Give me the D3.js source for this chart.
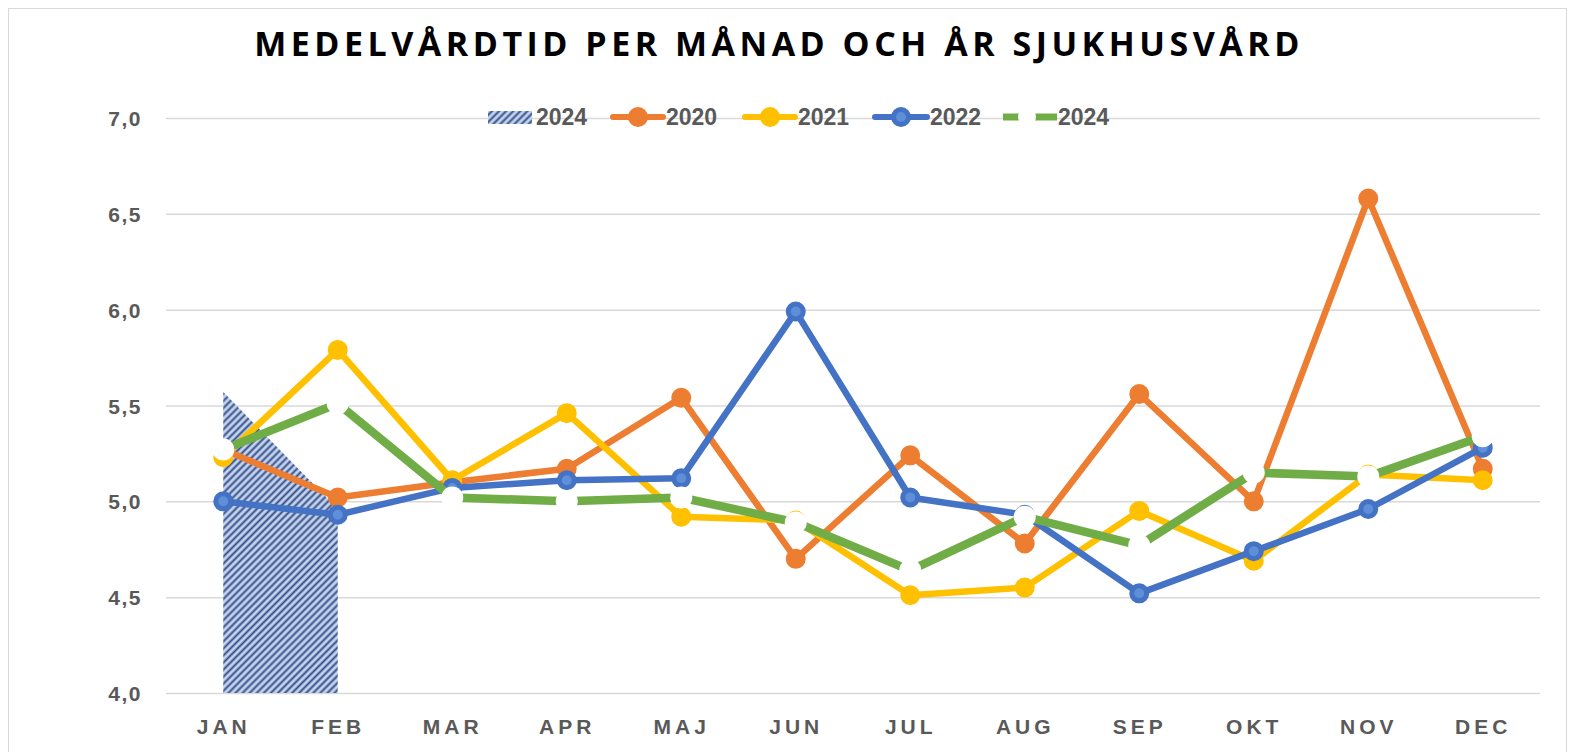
<!DOCTYPE html>
<html>
<head>
<meta charset="utf-8">
<script src="https://cdn.jsdelivr.net/npm/d3@7"></script>
<style>
  body { margin: 0; background: #fff; }
  text { font-family: "Liberation Sans", Arial, sans-serif; }
</style>
</head>
<body>
<div id="chart-area"></div>
<script>
// data
var months = ["JAN", "FEB", "MAR", "APR", "MAJ", "JUN", "JUL", "AUG", "SEP", "OKT", "NOV", "DEC"];
var yTicks = [4.0, 4.5, 5.0, 5.5, 6.0, 6.5, 7.0];
var area2024 = [5.57, 4.96];
var v2020 = [5.27, 5.02, 5.10, 5.17, 5.54, 4.70, 5.24, 4.78, 5.56, 5.00, 6.58, 5.17];
var v2021 = [5.23, 5.79, 5.11, 5.46, 4.92, 4.90, 4.51, 4.55, 4.95, 4.69, 5.14, 5.11];
var v2022 = [5.00, 4.93, 5.07, 5.11, 5.12, 5.99, 5.02, 4.93, 4.52, 4.74, 4.96, 5.28];
var v2024 = [5.27, 5.51, 5.02, 5.00, 5.02, 4.89, 4.64, 4.92, 4.77, 5.15, 5.13, 5.34];
var title = "MEDELVÅRDTID PER MÅNAD OCH ÅR SJUKHUSVÅRD";

//Canvas
var W = 1575, H = 752;
var plot = { left: 166, right: 1540, top: 118, bottom: 693 };

var svg = d3.select("#chart-area").append("svg")
    .attr("width", W)
    .attr("height", H);

// hatch pattern for the area
var defs = svg.append("defs");
var pat = defs.append("pattern")
    .attr("id", "hatch")
    .attr("patternUnits", "userSpaceOnUse")
    .attr("width", 5)
    .attr("height", 5)
    .attr("patternTransform", "rotate(45)");
pat.append("rect").attr("width", 5).attr("height", 5).attr("fill", "#c6d4ee");
pat.append("line")
    .attr("x1", 1.5).attr("y1", 0).attr("x2", 1.5).attr("y2", 5)
    .attr("stroke", "#34508a").attr("stroke-width", 2);

// outer border
svg.append("rect")
    .attr("x", 8.5).attr("y", 8.5)
    .attr("width", W - 17).attr("height", H)
    .attr("fill", "none")
    .attr("stroke", "#d9d9d9")
    .attr("stroke-width", 1);

//title
svg.append("text")
    .attr("x", 779)
    .attr("y", 56)
    .attr("text-anchor", "middle")
    .style("font-family", "'Open Sans', sans-serif")
    .attr("font-size", "34px")
    .attr("font-weight", "bold")
    .attr("letter-spacing", "4.5px")
    .attr("fill", "#000")
    .text(title);

//scales
var x = d3.scalePoint()
    .domain(months)
    .range([plot.left, plot.right])
    .padding(0.5);
var y = d3.scaleLinear()
    .domain([4, 7])
    .range([plot.bottom, plot.top]);

//gridlines
var yAxisCall = d3.axisLeft(y)
    .tickValues(yTicks)
    .tickSize(-(plot.right - plot.left))
    .tickPadding(24)
    .tickFormat(function(d){ return d3.format(".1f")(d).replace(".", ","); });
var yAxis = svg.append("g")
    .attr("transform", "translate(" + plot.left + ",0)")
    .call(yAxisCall);
yAxis.select(".domain").remove();
yAxis.selectAll(".tick line")
    .attr("stroke", "#d9d9d9")
    .attr("stroke-width", 1.5);
yAxis.selectAll(".tick text")
    .attr("font-size", "21px")
    .attr("font-weight", "bold")
    .attr("letter-spacing", "1.5px")
    .attr("fill", "#595959")
    .attr("dy", "0.36em");

//X axis labels
var xAxisCall = d3.axisBottom(x).tickSize(0).tickPadding(26);
var xAxis = svg.append("g")
    .attr("transform", "translate(0," + plot.bottom + ")")
    .call(xAxisCall);
xAxis.select(".domain").remove();
xAxis.selectAll(".tick text")
    .attr("font-size", "21px")
    .attr("font-weight", "bold")
    .attr("letter-spacing", "4px")
    .attr("fill", "#595959");

// area 2024
var area = d3.area()
    .x(function(d, i){ return x(months[i]); })
    .y0(y(4))
    .y1(function(d){ return y(d); });
svg.append("path")
    .attr("d", area(area2024))
    .attr("fill", "url(#hatch)");

// line series
var line = d3.line()
    .x(function(d, i){ return x(months[i]); })
    .y(function(d){ return y(d); });

var series = [
    { name: "2020", vals: v2020, color: "#ed7d31", fill: "#ed7d31" },
    { name: "2021", vals: v2021, color: "#ffc000", fill: "#ffc000" },
    { name: "2022", vals: v2022, color: "#4472c4", fill: "#5f8fd8" }
];

series.forEach(function(s){
    svg.append("path")
        .attr("d", line(s.vals))
        .attr("fill", "none")
        .attr("stroke", s.color)
        .attr("stroke-width", 6.5)
        .attr("stroke-linejoin", "round");
    svg.append("g").selectAll("circle")
        .data(s.vals)
        .enter().append("circle")
        .attr("cx", function(d, i){ return x(months[i]); })
        .attr("cy", function(d){ return y(d); })
        .attr("r", 7.5)
        .attr("fill", s.fill)
        .attr("stroke", s.color)
        .attr("stroke-width", 5);
});

// 2024 line, white markers
svg.append("path")
    .attr("d", line(v2024))
    .attr("fill", "none")
    .attr("stroke", "#70ad47")
    .attr("stroke-width", 8.5);
svg.append("g").selectAll("circle")
    .data(v2024)
    .enter().append("circle")
    .attr("cx", function(d, i){ return x(months[i]); })
    .attr("cy", function(d){ return y(d); })
    .attr("r", 11)
    .attr("fill", "#fff");

//legend
var legendY = 117;
var lg = svg.append("g");
lg.append("rect")
    .attr("x", 488).attr("y", legendY - 6)
    .attr("width", 44).attr("height", 13)
    .attr("fill", "url(#hatch)");
lg.append("text").attr("x", 536).attr("y", legendY).text("2024");

var legendLines = [
    { x: 613, w: 50, s: series[0] },
    { x: 745, w: 50, s: series[1] },
    { x: 875, w: 52, s: series[2] }
];
legendLines.forEach(function(l){
    lg.append("line")
        .attr("x1", l.x).attr("x2", l.x + l.w)
        .attr("y1", legendY).attr("y2", legendY)
        .attr("stroke", l.s.color).attr("stroke-width", 6)
        .attr("stroke-linecap", "round");
    lg.append("circle")
        .attr("cx", l.x + l.w / 2).attr("cy", legendY)
        .attr("r", 7.5)
        .attr("fill", l.s.fill)
        .attr("stroke", l.s.color).attr("stroke-width", 5);
    lg.append("text").attr("x", l.x + l.w + 3).attr("y", legendY).text(l.s.name);
});
lg.append("line")
    .attr("x1", 1003).attr("x2", 1057)
    .attr("y1", legendY).attr("y2", legendY)
    .attr("stroke", "#70ad47").attr("stroke-width", 7);
lg.append("circle")
    .attr("cx", 1027).attr("cy", legendY).attr("r", 9).attr("fill", "#fff");
lg.append("text").attr("x", 1058).attr("y", legendY).text("2024");

lg.selectAll("text")
    .attr("dy", "0.36em")
    .attr("font-size", "23px")
    .attr("font-weight", "bold")
    .attr("fill", "#595959");
</script>
</body>
</html>
